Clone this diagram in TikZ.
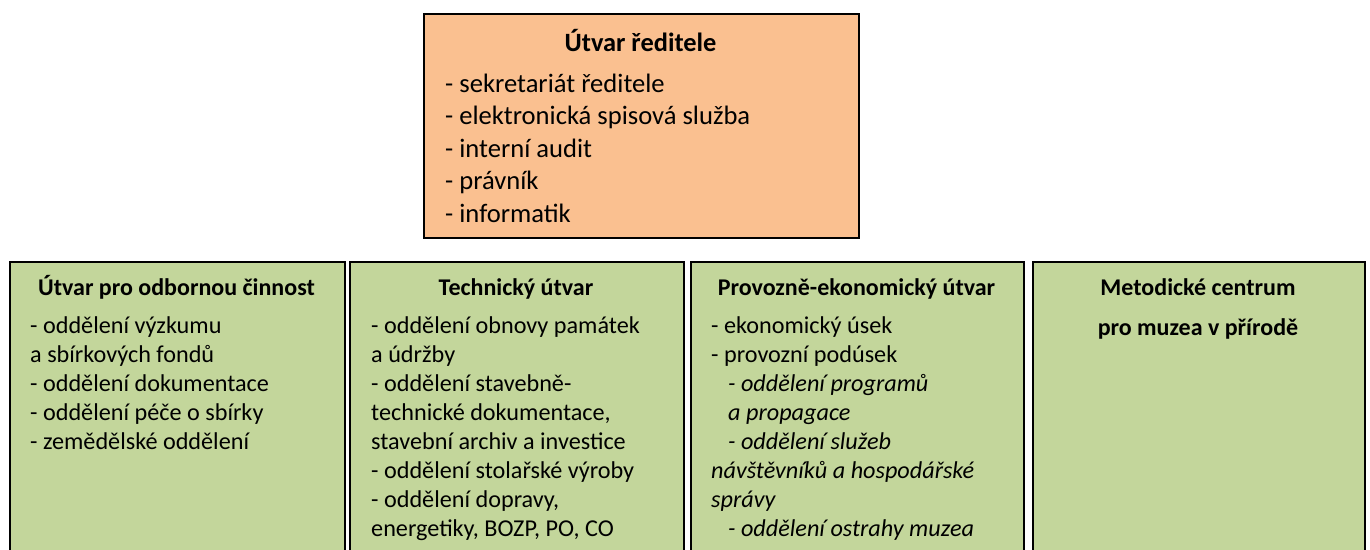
\documentclass[tikz,border=0pt]{standalone}
\usepackage{fontspec}
\setmainfont{Carlito}
\definecolor{boxorange}{HTML}{FAC090}
\definecolor{boxgreen}{HTML}{C3D69B}
\tikzset{
  unitbox/.style={draw=black, line width=2.4pt, inner sep=0pt, anchor=north west, rectangle},
  topbox/.style={unitbox, fill=boxorange, minimum width=435pt, minimum height=224pt},
  lowbox/.style={unitbox, fill=boxgreen, minimum height=300pt},
  toptitle/.style={font=\fontsize{26.4}{32.5}\selectfont\bfseries, inner sep=0pt, anchor=base},
  topbody/.style={font=\fontsize{26.6}{32.5}\selectfont, align=left, inner sep=0pt, anchor=base west},
  lowtitle/.style={font=\fontsize{24}{29}\selectfont\bfseries, inner sep=0pt, anchor=base, align=center},
  lowbody/.style={font=\fontsize{24.2}{29}\selectfont, align=left, inner sep=0pt, anchor=base west},
}
\newcommand{\ind}{\hspace*{17pt}}
\begin{document}
\begin{tikzpicture}[x=1pt, y=-1pt]
\useasboundingbox (0,0) rectangle (1370,549);
\clip (0,0) rectangle (1370,549);
% boxes
\node[topbox] (dir) at (423,13) {};
\node[lowbox, minimum width=335pt] (odb) at (9,261) {};
\node[lowbox, minimum width=334pt] (tech) at (349,261) {};
\node[lowbox, minimum width=333pt] (prov) at (690,261) {};
\node[lowbox, minimum width=332pt] (met) at (1032,261) {};
% top box text (base anchor = baseline of the last line)
\node[toptitle] (dirT) at (640.5,51) {Útvar ředitele};
\node[topbody] (dirB) at (445,222) {- sekretariát ředitele\\- elektronická spisová služba\\- interní audit\\- právník\\- informatik};
% bottom titles
\node[lowtitle] (odbT) at (176.5,295) {Útvar pro odbornou činnost};
\node[lowtitle] (techT) at (516,295) {Technický útvar};
\node[lowtitle] (provT) at (856.5,295) {Provozně-ekonomický útvar};
\node[lowtitle, font=\fontsize{24}{40}\selectfont\bfseries] (metT) at (1198,335) {Metodické centrum\\pro muzea v přírodě};
% bottom bodies
\node[lowbody] (odbB) at (30,449.5) {- oddělení výzkumu\\a sbírkových fondů\\- oddělení dokumentace\\- oddělení péče o sbírky\\- zemědělské oddělení};
\node[lowbody] (techB) at (371,536.5) {- oddělení obnovy památek\\a údržby\\- oddělení stavebně-\\technické dokumentace,\\stavební archiv a investice\\- oddělení stolařské výroby\\- oddělení dopravy,\\energetiky, BOZP, PO, CO};
\node[lowbody] (provB) at (711,536.5) {- ekonomický úsek\\- provozní podúsek\\\ind\textit{- oddělení programů}\\\ind\textit{a propagace}\\\ind\textit{- oddělení služeb}\\\textit{návštěvníků a hospodářské}\\\textit{správy}\\\ind\textit{- oddělení ostrahy muzea}};
\end{tikzpicture}
\end{document}
